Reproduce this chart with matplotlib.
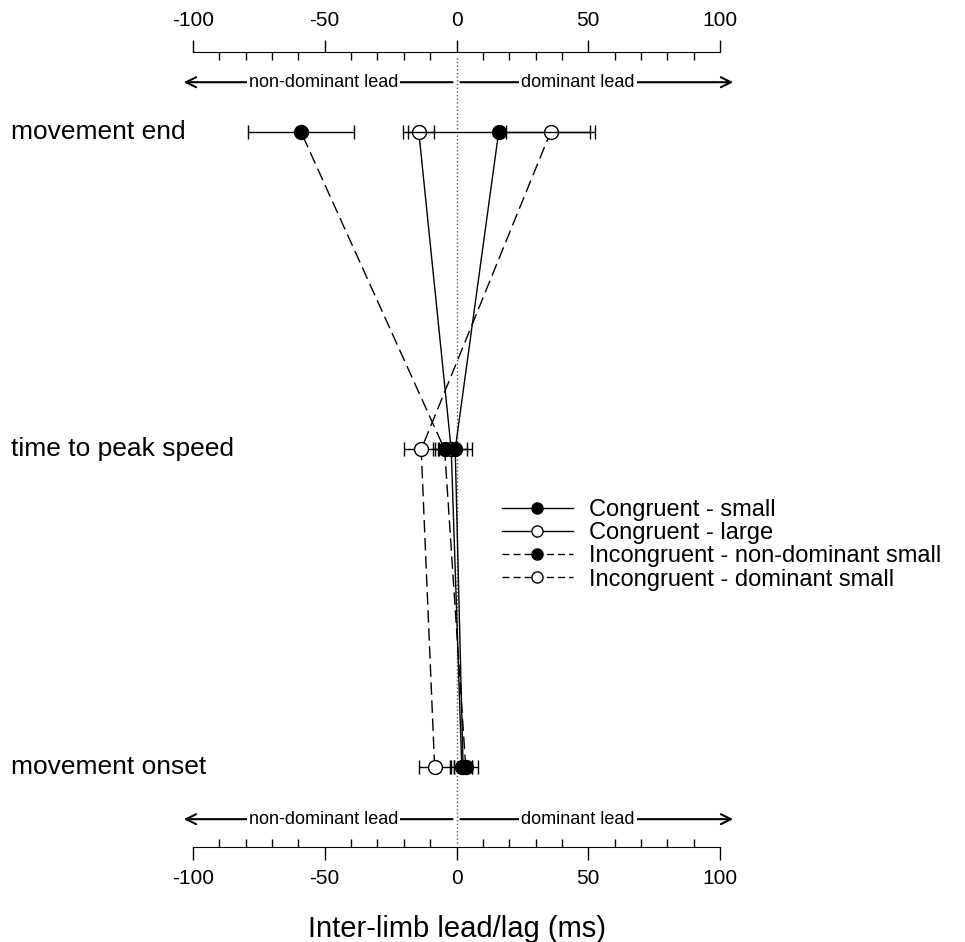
"""Inter-limb lead/lag per movement landmark, four bimanual conditions."""

import matplotlib
matplotlib.use("Agg")
import matplotlib.pyplot as plt
from matplotlib.lines import Line2D
from matplotlib.ticker import MultipleLocator
from matplotlib.transforms import blended_transform_factory

plt.rcParams["font.family"] = ["Liberation Sans", "DejaVu Sans"]
plt.rcParams["axes.unicode_minus"] = False

# landmarks, bottom to top
landmarks = ["movement onset", "time to peak speed", "movement end"]
y_pos = [0, 1, 2]

# means (ms) and error bars per condition, onset / peak speed / end
congruent_small = [2.5, -0.5, 16.0]
congruent_small_err = [3.5, 6.5, 34.5]
congruent_large = [2.0, -2.0, -14.3]
congruent_large_err = [4.0, 6.0, 5.9]
incong_nondom_small = [3.5, -4.5, -59.0]
incong_nondom_small_err = [4.5, 4.5, 20.0]
incong_dom_small = [-8.3, -13.4, 35.7]
incong_dom_small_err = [5.8, 6.7, 16.8]

labels = [
    "Congruent - small",
    "Congruent - large",
    "Incongruent - non-dominant small",
    "Incongruent - dominant small",
]

DASH = (0, (9, 4))

fig = plt.figure(figsize=(9.65, 9.42), dpi=100)
ax = fig.add_axes([193 / 965, 1 - 847 / 942, (720 - 193) / 965, (847 - 52) / 942])

series = [
    (congruent_large, congruent_large_err, "white", "-", 3),
    (incong_dom_small, incong_dom_small_err, "white", DASH, 3),
    (congruent_small, congruent_small_err, "black", "-", 4),
    (incong_nondom_small, incong_nondom_small_err, "black", DASH, 4),
]
for vals, err, face, ls, z in series:
    eb = ax.errorbar(vals, y_pos, xerr=err, color="black", lw=1.0, elinewidth=1.0,
                     capsize=5, capthick=1.0, marker="o", ms=10, mfc=face,
                     mec="black", mew=1.0, zorder=z)
    eb.lines[0].set_linestyle(ls)

ax.axvline(0, ymin=0.005, ymax=0.995, color="#555555", lw=1.0, ls=":", zorder=1)

ax.set_xlim(-100, 100)
ax.set_ylim(-0.252, 2.252)
ax.set_yticks([])
for side in ("left", "right"):
    ax.spines[side].set_visible(False)
ax.xaxis.set_major_locator(MultipleLocator(50))
ax.xaxis.set_minor_locator(MultipleLocator(10))
ax.tick_params(which="major", top=True, bottom=True, labeltop=True, direction="out",
               length=9, width=1, labelsize=15, pad=7)
ax.tick_params(which="minor", top=True, bottom=True, direction="in", length=6, width=1)
ax.set_xlabel("Inter-limb lead/lag (ms)", fontsize=21, labelpad=19)

# landmark names on the far left
lab_tr = blended_transform_factory(fig.transFigure, ax.transData)
for name, y in zip(landmarks, y_pos):
    fig.text(11 / 965, y, name, transform=lab_tr, fontsize=19, ha="left", va="center")

# direction arrows above and below the data
arr_tr = blended_transform_factory(ax.transData, ax.transAxes)
for yy in (0.962, 0.035):
    for x0, x1 in ((-1.5, -103.5), (1.5, 105.0)):
        ax.annotate("", xy=(x1, yy), xytext=(x0, yy), xycoords=arr_tr, textcoords=arr_tr,
                    arrowprops=dict(arrowstyle="->", lw=1.5, color="black",
                                    mutation_scale=18, shrinkA=0, shrinkB=0),
                    annotation_clip=False)
    for xc, txt in ((-50.5, "non-dominant lead"), (46, "dominant lead")):
        ax.text(xc, yy, txt, transform=arr_tr, ha="center", va="center", fontsize=13,
                bbox=dict(facecolor="white", edgecolor="none", pad=1.5), zorder=5)

handles = [
    Line2D([], [], color="black", lw=1.0, ls="-", marker="o", ms=8, mfc="black", mec="black"),
    Line2D([], [], color="black", lw=1.0, ls="-", marker="o", ms=8, mfc="white", mec="black"),
    Line2D([], [], color="black", lw=1.0, ls=(0, (5, 3)), marker="o", ms=8, mfc="black", mec="black"),
    Line2D([], [], color="black", lw=1.0, ls=(0, (5, 3)), marker="o", ms=8, mfc="white", mec="black"),
]
fig.legend(handles, labels, loc="upper left", bbox_to_anchor=(502 / 965, 1 - 499 / 942),
           frameon=False, fontsize=17, handlelength=3.0, handletextpad=0.7,
           labelspacing=0.05, borderpad=0, borderaxespad=0)

fig.savefig("out.png", dpi=100)
